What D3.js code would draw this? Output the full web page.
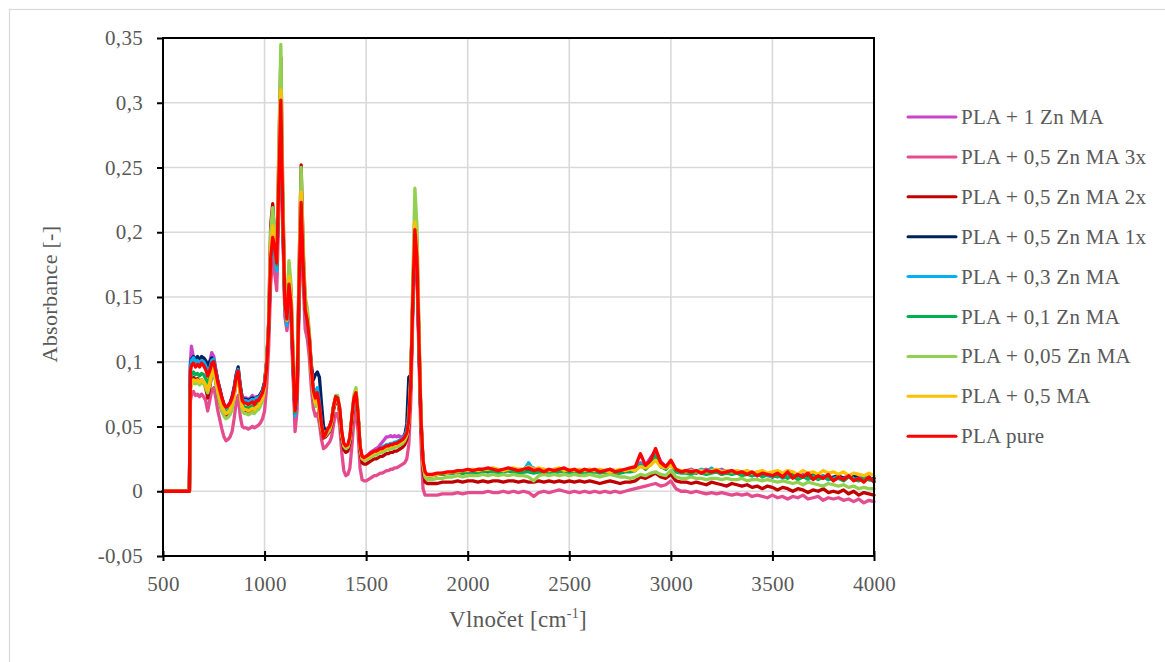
<!DOCTYPE html>
<html>
<head>
<meta charset="utf-8">
<script src="https://cdn.jsdelivr.net/npm/d3@7/dist/d3.min.js"></script>
<style>
  html, body { margin: 0; padding: 0; background: #fff; }
</style>
</head>
<body>
<svg id="chart" width="1165" height="662"></svg>
<script>
// FTIR spectra: wavenumber [cm-1] vs absorbance (stored in milli-absorbance units)
const wavenumber = [
  500,630,635,640,650,660,670,680,690,700,
  710,720,730,740,750,760,770,780,790,800,
  810,820,830,840,850,860,870,880,890,900,
  910,920,930,940,950,960,970,980,990,1000,
  1010,1020,1030,1040,1050,1060,1070,1080,1090,1100,
  1110,1120,1130,1140,1150,1160,1170,1180,1190,1200,
  1210,1220,1230,1240,1250,1260,1270,1280,1290,1300,
  1310,1320,1330,1340,1350,1360,1370,1380,1390,1400,
  1410,1420,1430,1440,1450,1460,1470,1480,1490,1500,
  1510,1520,1530,1540,1550,1560,1570,1580,1590,1600,
  1610,1620,1630,1640,1650,1660,1670,1680,1690,1700,
  1710,1720,1730,1740,1750,1760,1770,1780,1790,1800,
  1825,1850,1875,1900,1925,1950,1975,2000,2025,2050,
  2075,2100,2125,2150,2175,2200,2225,2250,2275,2300,
  2325,2350,2375,2400,2425,2450,2475,2500,2525,2550,
  2575,2600,2625,2650,2675,2700,2725,2750,2775,2800,
  2825,2850,2875,2900,2925,2950,2975,3000,3025,3050,
  3075,3100,3125,3150,3175,3200,3225,3250,3275,3300,
  3325,3350,3375,3400,3425,3450,3475,3500,3525,3550,
  3575,3600,3625,3650,3675,3700,3725,3750,3775,3800,
  3825,3850,3875,3900,3925,3950,3975,4000
];

const pla1ZnMA = [
  0,0,100,112,103,101,103,100,102,101,
  99,95,100,107,104,94,85,78,72,67,
  65,66,68,72,79,89,94,81,72,72,
  72,71,72,74,72,73,73,75,78,84,
  98,124,172,192,184,168,236,296,205,140,
  126,154,140,96,57,70,155,218,172,138,
  130,115,90,76,70,74,64,50,42,43,
  46,48,53,64,71,70,61,43,34,32,
  33,39,55,70,74,58,33,26,25,27,
  28,30,31,32,33,34,36,38,40,42,
  42,43,42,43,42,43,42,42,44,47,
  56,84,148,198,176,112,52,21,13,12,
  12,13,14,14,15,15,16,15,16,16,
  16,17,16,15,16,17,16,16,17,18,
  18,16,17,16,17,16,17,16,15,16,
  16,17,16,15,16,17,16,15,16,17,
  18,22,20,26,31,23,19,22,16,15,
  16,17,15,16,17,15,16,17,15,16,
  14,15,13,14,12,14,13,12,14,11,
  13,12,11,13,10,12,11,10,12,9,
  11,10,12,9,11,10,9,10
];

const pla05ZnMA3x = [
  0,0,70,74,77,74,75,73,75,73,
  70,62,70,78,80,72,62,55,48,42,
  39,40,42,46,56,68,74,58,50,49,
  49,48,49,50,49,50,51,53,56,62,
  80,110,160,180,168,155,215,290,200,135,
  124,150,132,90,46,62,145,210,160,125,
  118,104,80,64,58,60,52,40,33,34,
  36,38,42,52,60,60,50,30,16,12,
  13,18,35,55,62,46,18,9,8,8,
  9,10,11,12,12,13,14,14,15,16,
  16,17,17,18,18,19,20,21,22,25,
  36,70,138,192,170,104,38,2,-3,-3,
  -3,-3,-2,-2,-2,-1,-2,-1,-1,-1,
  -1,0,-1,-1,0,-1,0,-1,0,-1,
  -4,-1,0,-1,0,1,0,-1,0,-1,
  0,-1,0,-1,0,-1,0,-1,0,1,
  2,3,4,5,6,4,5,8,2,0,
  0,-1,0,-1,-2,-1,-2,-1,-2,-3,
  -2,-3,-2,-4,-3,-4,-5,-3,-5,-4,
  -6,-4,-5,-3,-6,-5,-4,-7,-5,-6,
  -5,-7,-6,-8,-6,-9,-7,-8
];

const pla05ZnMA2x = [
  0,0,82,86,88,86,87,84,86,84,
  80,72,80,90,94,84,75,68,62,59,
  58,59,61,66,74,86,91,75,64,62,
  62,61,62,63,62,64,65,68,71,79,
  96,130,205,222,196,176,258,335,225,148,
  133,172,155,104,60,78,172,252,186,147,
  138,120,92,74,66,70,60,47,41,42,
  44,46,51,63,70,70,60,41,32,30,
  31,37,54,70,75,58,31,22,21,21,
  22,23,24,25,25,26,27,27,28,29,
  29,30,30,31,31,32,33,34,36,40,
  50,84,155,215,192,120,52,16,7,6,
  6,6,7,7,7,8,7,8,8,7,
  8,7,8,8,7,8,8,7,8,7,
  7,8,7,8,7,8,7,8,7,8,
  7,8,7,6,7,8,7,6,7,7,
  8,11,10,12,14,11,10,13,8,7,
  7,6,7,6,5,7,6,5,4,6,
  5,4,5,3,4,2,4,3,1,3,
  2,0,2,1,-1,1,0,2,-1,0,
  -1,1,-2,0,-3,-1,-2,-3
];

const pla05ZnMA1x = [
  0,0,98,102,104,102,104,101,104,103,
  101,97,100,103,101,93,85,79,72,67,
  65,66,68,73,80,90,96,82,72,71,
  71,70,71,72,71,72,73,75,78,84,
  100,128,178,198,190,174,240,300,212,146,
  130,158,145,100,60,74,160,224,178,142,
  134,120,98,86,90,92,88,68,50,47,
  48,50,55,66,72,71,62,44,35,33,
  34,40,56,71,75,59,33,26,25,26,
  27,28,29,30,31,32,33,33,34,35,
  35,36,36,37,38,38,39,40,43,52,
  88,90,150,198,178,112,54,22,13,12,
  12,13,13,14,14,15,14,15,15,15,
  16,15,16,15,16,16,15,16,15,16,
  15,16,15,16,15,16,16,15,16,15,
  16,15,16,15,15,16,15,15,16,16,
  17,20,18,22,27,19,18,21,16,15,
  15,16,14,16,15,16,15,14,15,14,
  15,13,14,12,14,12,13,11,13,12,
  11,13,10,12,11,13,10,12,9,11,
  12,10,11,13,9,11,9,10
];

const pla03ZnMA = [
  0,0,96,101,103,100,101,99,101,100,
  97,92,95,101,102,93,84,77,71,66,
  64,65,67,71,78,89,94,81,71,70,
  70,69,70,71,70,72,72,74,77,83,
  98,125,175,195,186,170,238,298,208,142,
  128,156,142,98,58,72,158,220,174,140,
  132,117,93,80,76,80,68,52,44,45,
  47,49,54,65,71,70,62,44,35,33,
  34,40,56,71,75,59,33,26,25,26,
  27,28,29,30,31,32,33,34,35,36,
  36,37,37,38,38,39,40,41,43,47,
  60,88,150,200,178,113,54,22,13,12,
  12,13,13,14,14,15,15,15,16,15,
  16,16,15,16,16,17,16,15,16,22,
  16,16,15,16,15,16,17,15,16,15,
  16,15,16,15,16,15,14,15,16,16,
  17,21,18,22,28,20,18,21,16,15,
  15,16,15,17,15,18,15,16,14,15,
  15,13,14,13,12,13,12,11,13,10,
  12,11,10,12,9,11,10,12,9,10,
  11,9,12,9,10,9,11,8
];

const pla01ZnMA = [
  0,0,86,90,92,90,91,89,91,90,
  87,83,88,95,97,88,80,74,68,63,
  61,62,64,68,76,86,91,77,67,65,
  65,64,65,66,65,67,68,71,74,81,
  98,128,182,200,190,175,245,305,212,146,
  132,162,147,101,61,75,162,226,177,141,
  133,117,92,76,70,74,64,51,44,45,
  47,49,54,66,72,72,63,45,36,34,
  35,41,57,72,76,60,34,26,25,26,
  27,28,29,30,30,31,32,32,33,34,
  34,35,35,36,36,37,38,39,41,44,
  54,85,150,204,182,116,55,22,13,12,
  12,13,13,14,14,15,14,15,15,14,
  15,16,15,14,15,16,15,14,15,15,
  14,15,14,15,14,15,16,14,15,14,
  15,14,15,14,15,14,13,14,15,15,
  16,20,17,21,27,19,17,21,15,14,
  14,13,15,14,13,14,15,13,14,13,
  14,12,13,12,14,11,13,12,11,12,
  10,12,9,11,10,12,9,11,10,9,
  10,8,11,9,8,10,9,8
];

const pla005ZnMA = [
  0,0,78,82,84,83,84,82,84,83,
  80,76,82,90,93,84,75,68,62,58,
  56,57,59,63,72,85,91,74,62,60,
  60,59,60,61,60,62,63,66,70,78,
  96,130,200,219,198,180,265,345,230,150,
  136,178,160,108,64,80,175,250,190,150,
  142,124,94,75,66,70,60,48,42,43,
  45,47,53,66,74,74,64,44,35,33,
  34,40,58,75,80,62,34,25,24,24,
  25,26,27,28,28,29,30,30,31,32,
  32,33,33,34,34,35,36,37,39,43,
  54,90,165,234,205,128,58,20,11,9,
  9,10,10,11,11,12,11,12,12,12,
  13,12,13,12,13,12,13,12,12,11,
  8,12,13,12,13,12,13,12,13,12,
  12,13,12,11,12,13,12,11,11,10,
  11,13,12,14,15,13,12,16,11,10,
  10,11,10,10,9,10,10,9,10,9,
  9,10,8,9,9,8,9,8,7,8,
  7,6,7,5,7,6,5,4,6,5,
  4,5,3,4,2,3,2,2
];

const pla05MA = [
  0,0,80,84,86,85,86,84,86,85,
  82,78,84,92,95,86,78,72,66,62,
  60,61,63,67,74,85,90,76,65,63,
  63,62,63,64,63,65,66,69,72,80,
  98,128,185,205,192,176,250,310,215,145,
  132,166,150,102,62,76,165,231,180,143,
  134,118,92,75,68,72,62,50,44,45,
  47,49,54,66,72,71,62,44,36,34,
  35,41,57,72,77,60,34,26,25,26,
  27,28,29,30,30,31,32,32,33,34,
  34,35,35,36,36,37,38,39,41,44,
  54,86,152,208,186,118,56,23,14,12,
  12,13,14,14,15,15,16,16,17,16,
  17,17,18,17,16,17,18,17,17,19,
  17,18,17,16,17,18,16,17,16,17,
  16,17,16,17,16,15,16,17,16,17,
  16,19,18,20,24,19,18,20,17,16,
  15,16,15,16,15,16,17,15,16,15,
  16,15,16,14,15,16,14,15,16,14,
  16,15,13,16,14,15,13,16,14,15,
  13,15,12,14,13,12,14,12
];

const plaPure = [
  0,0,93,97,99,96,98,96,99,97,
  94,89,93,99,100,92,84,78,72,67,
  65,66,68,72,78,88,93,80,70,68,
  68,67,68,69,67,70,70,73,76,82,
  95,125,180,196,188,176,240,302,210,145,
  133,160,145,100,62,75,160,223,175,140,
  132,118,95,78,72,76,66,52,42,44,
  48,50,55,66,73,72,64,46,37,35,
  36,42,58,72,76,60,35,27,26,27,
  28,29,30,31,31,32,33,33,34,35,
  35,36,36,37,37,38,39,40,42,45,
  55,85,150,202,180,115,55,24,15,13,
  13,14,14,15,15,16,16,17,16,17,
  17,18,17,16,17,18,17,16,17,18,
  16,17,15,17,16,17,18,16,17,15,
  17,16,17,15,16,17,15,16,17,18,
  19,29,20,24,33,22,19,24,17,15,
  16,15,16,14,16,15,16,14,15,16,
  14,15,13,15,12,14,13,12,14,11,
  15,10,13,11,14,9,12,10,13,8,
  11,9,12,8,10,7,11,7
];

const seriesNames = [
  "PLA + 1 Zn MA", "PLA + 0,5 Zn MA 3x", "PLA + 0,5 Zn MA 2x", "PLA + 0,5 Zn MA 1x",
  "PLA + 0,3 Zn MA", "PLA + 0,1 Zn MA", "PLA + 0,05 Zn MA", "PLA + 0,5 MA", "PLA pure"
];
const seriesColors = [
  "#c944c9", "#e54c8e", "#c00000", "#002060",
  "#00b0f0", "#00b050", "#92d050", "#ffc000", "#ff0000"
];
const seriesValues = [
  pla1ZnMA, pla05ZnMA3x, pla05ZnMA2x, pla05ZnMA1x,
  pla03ZnMA, pla01ZnMA, pla005ZnMA, pla05MA, plaPure
];

const xTicks = [500, 1000, 1500, 2000, 2500, 3000, 3500, 4000];
const xTickLabels = ["500", "1000", "1500", "2000", "2500", "3000", "3500", "4000"];
const yTicks = [-50, 0, 50, 100, 150, 200, 250, 300, 350];
const yTickLabels = ["-0,05", "0", "0,05", "0,1", "0,15", "0,2", "0,25", "0,3", "0,35"];

const FONT = "Liberation Serif";
const TEXT_COLOR = "#595959";

const series = seriesNames.map((name, i) => ({
  name, color: seriesColors[i],
  points: wavenumber.map((w, j) => [w, seriesValues[i][j]])
}));

const svg = d3.select("#chart");
const plot = { left: 163, right: 874, top: 38, bottom: 556 };

// outer chart frame
svg.append("rect")
  .attr("x", 9.5).attr("y", 9.5).attr("width", 1200).attr("height", 700)
  .attr("fill", "none").attr("stroke", "#d9d9d9").attr("stroke-width", 1.2);

const x = d3.scaleLinear().domain([500, 4000]).range([plot.left, plot.right]);
const y = d3.scaleLinear().domain([-50, 350]).range([plot.bottom, plot.top]);

// gridlines
const grid = svg.append("g").attr("stroke", "#d9d9d9").attr("stroke-width", 1.6);
grid.selectAll("line.v").data(xTicks.slice(1, -1)).join("line")
  .attr("x1", d => x(d)).attr("x2", d => x(d))
  .attr("y1", plot.top).attr("y2", plot.bottom);
grid.selectAll("line.h").data(yTicks.slice(1, -1)).join("line")
  .attr("x1", plot.left).attr("x2", plot.right)
  .attr("y1", d => y(d)).attr("y2", d => y(d));

// spectra
const line = d3.line().x(d => x(d[0])).y(d => y(d[1]));
svg.append("g").selectAll("path").data(series).join("path")
  .attr("d", d => line(d.points))
  .attr("fill", "none")
  .attr("stroke", d => d.color)
  .attr("stroke-width", 3.3)
  .attr("stroke-linejoin", "round")
  .attr("stroke-linecap", "round");

// plot frame
svg.append("rect")
  .attr("x", plot.left).attr("y", plot.top)
  .attr("width", plot.right - plot.left).attr("height", plot.bottom - plot.top)
  .attr("fill", "none").attr("stroke", "#000").attr("stroke-width", 2);

// y axis
const yAxis = d3.axisLeft(y).tickValues(yTicks)
  .tickFormat((d, i) => yTickLabels[i]).tickSize(6).tickPadding(14);
const gy = svg.append("g").attr("transform", `translate(${plot.left},0)`).call(yAxis);
gy.select(".domain").remove();
gy.selectAll(".tick line").attr("stroke", "#000").attr("stroke-width", 2);
gy.selectAll(".tick text").attr("font-family", FONT).attr("font-size", 21)
  .attr("letter-spacing", 0.3).attr("fill", TEXT_COLOR);

// x axis (ticks cross the line)
const xAxis = d3.axisBottom(x).tickValues(xTicks)
  .tickFormat((d, i) => xTickLabels[i]).tickSize(5).tickPadding(15);
const gx = svg.append("g").attr("transform", `translate(0,${plot.bottom})`).call(xAxis);
gx.select(".domain").remove();
gx.selectAll(".tick line").attr("y1", -5).attr("y2", 5).attr("stroke", "#000").attr("stroke-width", 2);
gx.selectAll(".tick text").attr("font-family", FONT).attr("font-size", 21)
  .attr("letter-spacing", 0.3).attr("fill", TEXT_COLOR);

// axis titles
svg.append("text")
  .attr("transform", "translate(57,294) rotate(-90)")
  .attr("text-anchor", "middle").attr("font-size", 22).attr("letter-spacing", 0.3)
  .attr("font-family", FONT).attr("fill", TEXT_COLOR)
  .text("Absorbance [-]");

const xt = svg.append("text")
  .attr("x", 518).attr("y", 627).attr("text-anchor", "middle").attr("letter-spacing", 0.3)
  .attr("font-size", 23).attr("font-family", FONT).attr("fill", TEXT_COLOR);
xt.append("tspan").text("Vlnočet [cm");
xt.append("tspan").attr("font-size", 14).attr("dy", -9).text("-1");
xt.append("tspan").attr("dy", 9).text("]");

// legend
const legend = svg.append("g").attr("transform", "translate(908,117)");
const item = legend.selectAll("g").data(series).join("g")
  .attr("transform", (d, i) => `translate(0,${i * 39.9})`);
item.append("line").attr("x1", 0).attr("x2", 48).attr("y1", 0).attr("y2", 0)
  .attr("stroke", d => d.color).attr("stroke-width", 3).attr("stroke-linecap", "round");
item.append("text").attr("x", 53).attr("y", 7)
  .attr("font-family", FONT).attr("font-size", 21).attr("letter-spacing", 0.3)
  .attr("fill", TEXT_COLOR).text(d => d.name);
</script>
</body>
</html>
